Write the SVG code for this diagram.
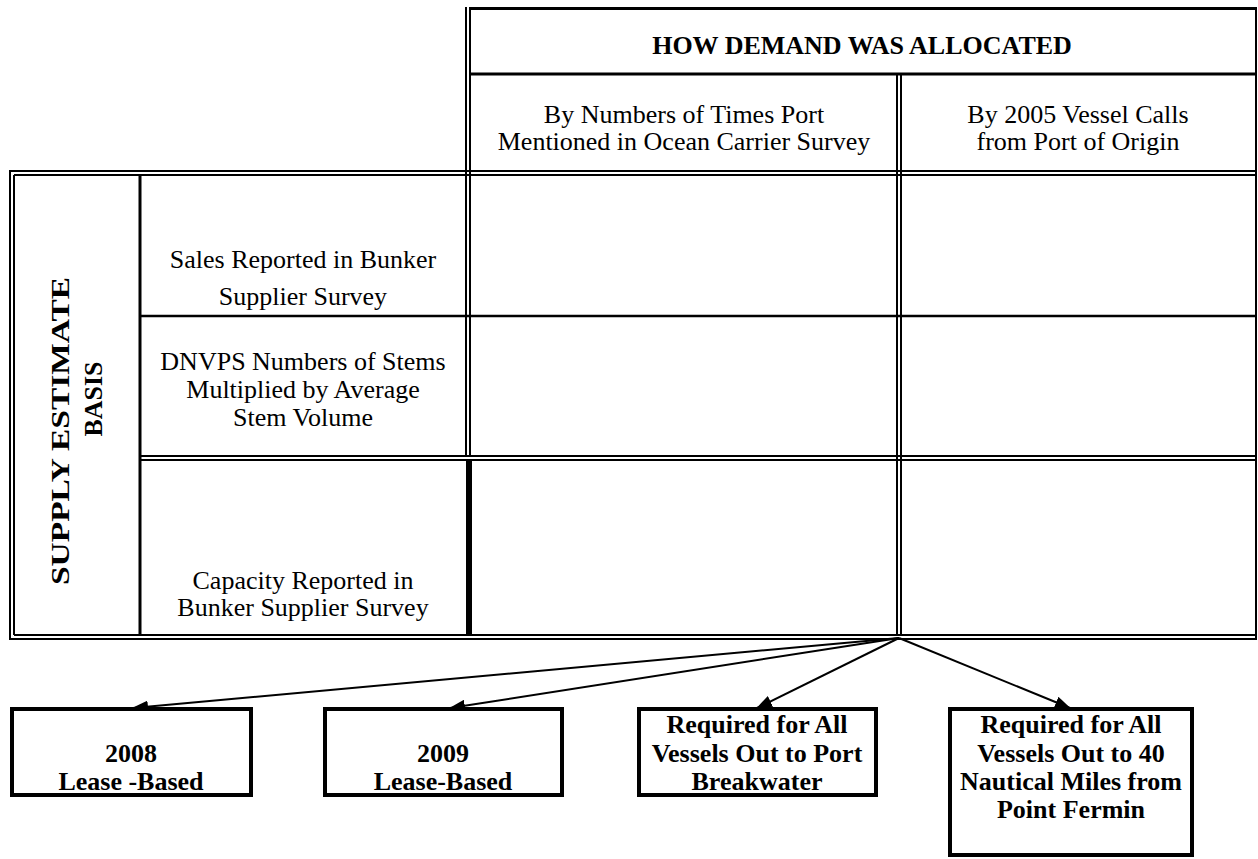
<svg xmlns="http://www.w3.org/2000/svg" width="1258" height="859" viewBox="0 0 1258 859">
<defs>
<style>
.ln{stroke:#000;fill:none}
.t{font-family:"Liberation Serif","Times New Roman",serif;font-size:26px;fill:#000;text-anchor:middle}
.b{font-weight:bold}
.box{fill:#fff;stroke:#000;stroke-width:4}
.conn{stroke:#000;stroke-width:2;fill:none}
</style>
<marker id="ah" markerUnits="userSpaceOnUse" markerWidth="16" markerHeight="12" viewBox="0 0 16 12" refX="15" refY="6" orient="auto">
<path d="M0,0 L16,6 L0,12 Z" fill="#000"/>
</marker>
</defs>
<rect width="1258" height="859" fill="#fff"/>
<g id="table">
<line class="ln" x1="469" y1="8.5" x2="1257" y2="8.5" stroke-width="3"/>
<line class="ln" x1="469" y1="74" x2="1257" y2="74" stroke-width="3"/>
<line class="ln" x1="466" y1="7" x2="466" y2="456" stroke-width="2"/>
<line class="ln" x1="470" y1="7" x2="470" y2="456" stroke-width="2"/>
<line class="ln" x1="469" y1="460" x2="469" y2="635" stroke-width="6"/>
<line class="ln" x1="1256" y1="7" x2="1256" y2="639" stroke-width="2"/>
<line class="ln" x1="897" y1="74" x2="897" y2="635" stroke-width="2"/>
<line class="ln" x1="901" y1="74" x2="901" y2="635" stroke-width="2"/>
<line class="ln" x1="9" y1="171" x2="1257" y2="171" stroke-width="2"/>
<line class="ln" x1="14" y1="175" x2="1257" y2="175" stroke-width="2"/>
<line class="ln" x1="10" y1="170" x2="10" y2="640" stroke-width="2"/>
<line class="ln" x1="14" y1="175" x2="14" y2="635" stroke-width="2"/>
<line class="ln" x1="14" y1="635" x2="1257" y2="635" stroke-width="2"/>
<line class="ln" x1="9" y1="639" x2="1257" y2="639" stroke-width="2"/>
<line class="ln" x1="140" y1="175" x2="140" y2="635" stroke-width="3"/>
<line class="ln" x1="139" y1="316" x2="1256" y2="316" stroke-width="2.5"/>
<line class="ln" x1="139" y1="456" x2="1256" y2="456" stroke-width="2"/>
<line class="ln" x1="139" y1="460" x2="1256" y2="460" stroke-width="2"/>
</g>
<g id="header">
<text class="t b" x="862" y="54">HOW DEMAND WAS ALLOCATED</text>
</g>
<g id="col1">
<text class="t" x="684" y="123">By Numbers of Times Port</text>
<text class="t" x="684" y="150">Mentioned in Ocean Carrier Survey</text>
</g>
<g id="col2">
<text class="t" x="1078" y="123">By 2005 Vessel Calls</text>
<text class="t" x="1078" y="150">from Port of Origin</text>
</g>
<g id="rowhead">
<text class="t b" font-size="27" textLength="308" lengthAdjust="spacingAndGlyphs" transform="translate(69,431) rotate(-90)">SUPPLY ESTIMATE</text>
<text class="t b" font-size="27" transform="translate(102,399) rotate(-90)">BASIS</text>
</g>
<g id="row1">
<text class="t" x="303" y="268">Sales Reported in Bunker</text>
<text class="t" x="303" y="305">Supplier Survey</text>
</g>
<g id="row2">
<text class="t" x="303" y="370">DNVPS Numbers of Stems</text>
<text class="t" x="303" y="398">Multiplied by Average</text>
<text class="t" x="303" y="426">Stem Volume</text>
</g>
<g id="row3">
<text class="t" x="303" y="589">Capacity Reported in</text>
<text class="t" x="303" y="616">Bunker Supplier Survey</text>
</g>
<g id="connectors">
<line class="conn" x1="899" y1="638" x2="133" y2="708" marker-end="url(#ah)"/>
<line class="conn" x1="899" y1="638" x2="450" y2="708" marker-end="url(#ah)"/>
<line class="conn" x1="899" y1="638" x2="757" y2="708" marker-end="url(#ah)"/>
<line class="conn" x1="899" y1="638" x2="1070" y2="708" marker-end="url(#ah)"/>
</g>
<g id="box1">
<rect class="box" x="12" y="709" width="239" height="86"/>
<text class="t b" x="131" y="762">2008</text>
<text class="t b" x="131" y="790">Lease -Based</text>
</g>
<g id="box2">
<rect class="box" x="325" y="709" width="237" height="86"/>
<text class="t b" x="443" y="762">2009</text>
<text class="t b" x="443" y="790">Lease-Based</text>
</g>
<g id="box3">
<rect class="box" x="639" y="709" width="237" height="86"/>
<text class="t b" x="757" y="733">Required for All</text>
<text class="t b" x="757" y="762">Vessels Out to Port</text>
<text class="t b" x="757" y="790">Breakwater</text>
</g>
<g id="box4">
<rect class="box" x="950" y="709" width="242" height="146"/>
<text class="t b" x="1071" y="733">Required for All</text>
<text class="t b" x="1071" y="762">Vessels Out to 40</text>
<text class="t b" x="1071" y="790">Nautical Miles from</text>
<text class="t b" x="1071" y="818">Point Fermin</text>
</g>
</svg>
